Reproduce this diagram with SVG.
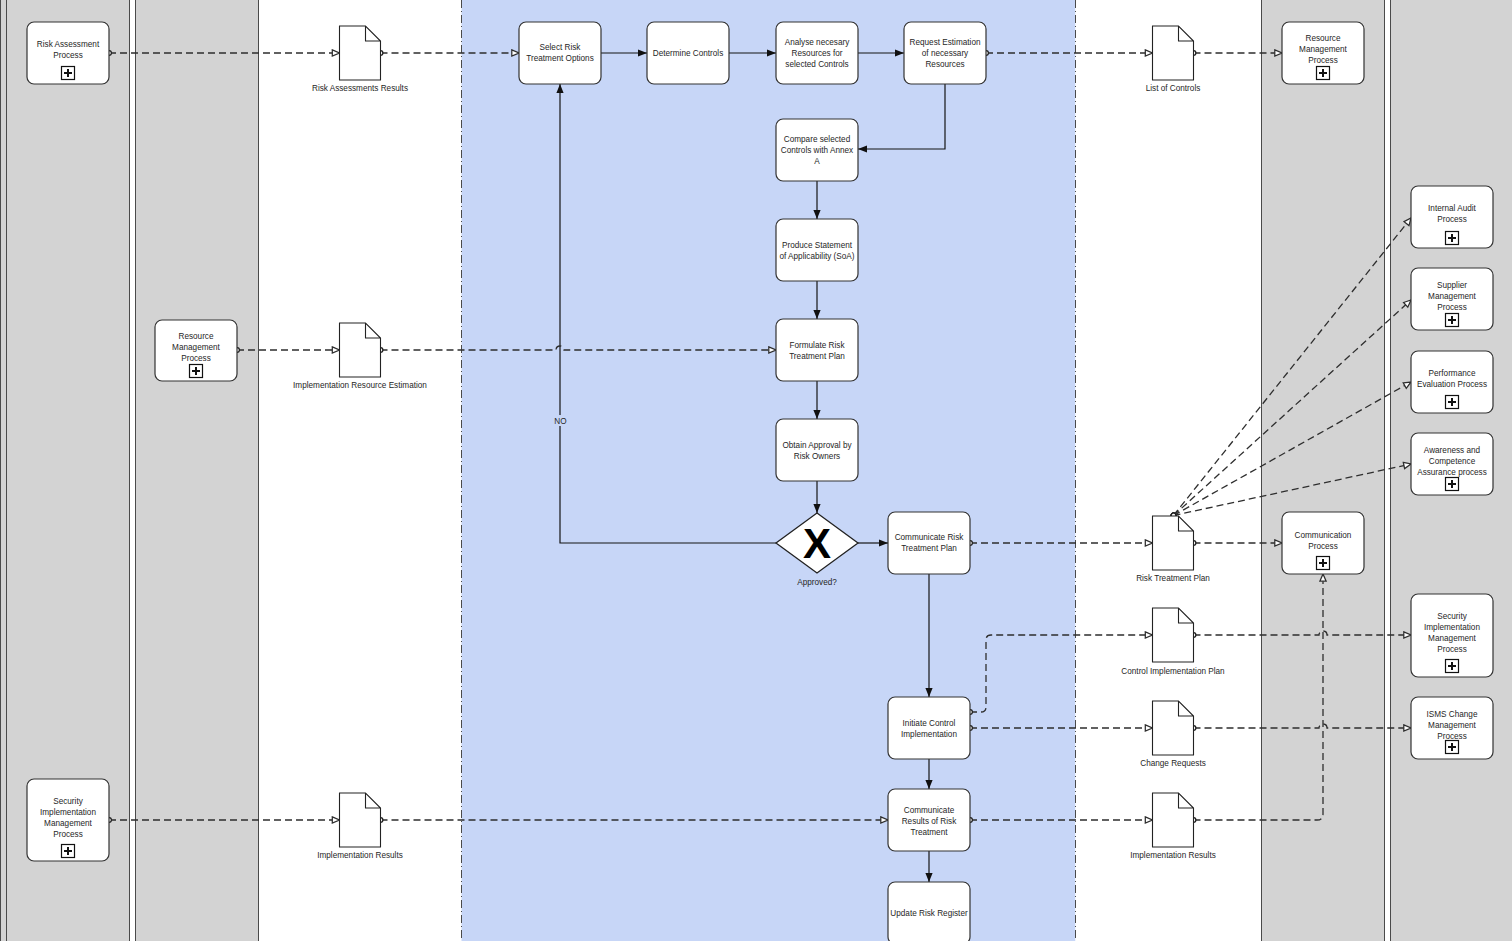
<svg xmlns="http://www.w3.org/2000/svg" width="1512" height="941" viewBox="0 0 1512 941">
<style>
.lg{fill:#d3d3d3}
.lw{fill:#ffffff}
.lb{fill:#c7d6f7}
.ll{stroke:#4a4a4a;stroke-width:1;fill:none}
.ld{stroke:#4a4a4a;stroke-width:1;fill:none;stroke-dasharray:8,3,1,3}
.node rect.b{fill:#fff;stroke:#333;stroke-width:1.2}
.t{font-family:"Liberation Sans",Arial,sans-serif;font-size:8.2px;fill:#262626;text-anchor:middle}
.pb{fill:#fff;stroke:#111;stroke-width:1.2}
.pl{stroke:#111;stroke-width:2}
.seq{fill:none;stroke:#151515;stroke-width:1.2;marker-end:url(#af)}
.msg{fill:none;stroke:#2e2e2e;stroke-width:1.3;stroke-dasharray:7,4;marker-start:url(#ci);marker-end:url(#ao)}
</style>
<defs>
<marker id="af" viewBox="0 0 10 10" refX="10" refY="5" markerWidth="9" markerHeight="9" markerUnits="userSpaceOnUse" orient="auto">
<path d="M0,1 L10,5 L0,9 z" fill="#111" stroke="none"/>
</marker>
<marker id="ao" viewBox="0 0 10 10" refX="9.5" refY="5" markerWidth="9" markerHeight="9" markerUnits="userSpaceOnUse" orient="auto">
<path d="M1.5,1.5 L9.5,5 L1.5,8.5 z" fill="#fff" stroke="#2e2e2e" stroke-width="1.4"/>
</marker>
<marker id="ci" viewBox="0 0 10 10" refX="5" refY="5" markerWidth="7" markerHeight="7" markerUnits="userSpaceOnUse" orient="auto">
<circle cx="5" cy="5" r="3.4" fill="#fff" stroke="#222" stroke-width="1.8"/>
</marker>
<g id="plus"><rect class="pb" x="-6.5" y="-6.5" width="13" height="13"/><path class="pl" d="M-4,0 H4 M0,-4 V4"/></g>
<path id="docshape" d="M0,0 H26 L41,15 V54 H0 Z M26,0 V15 H41" fill="#fff" stroke="#222" stroke-width="1.1"/>
</defs>

<g id="lanes">
<rect class="lg" x="0" y="0" width="130" height="941"/>
<rect class="lw" x="130" y="0" width="5.5" height="941"/>
<rect class="lg" x="135.5" y="0" width="123" height="941"/>
<rect class="lw" x="258.5" y="0" width="203" height="941"/>
<rect class="lb" x="461.5" y="0" width="614" height="941"/>
<rect class="lw" x="1075.5" y="0" width="186" height="941"/>
<rect class="lg" x="1261.5" y="0" width="123" height="941"/>
<rect class="lw" x="1384.5" y="0" width="6" height="941"/>
<rect class="lg" x="1390.5" y="0" width="122" height="941"/>
<path class="ll" d="M0.5,0 V941 M6.5,0 V941 M129.5,0 V941 M135.5,0 V941 M258.5,0 V941 M1261.5,0 V941 M1384.5,0 V941 M1390.5,0 V941"/>
<path class="ld" d="M461.5,0 V941 M1075.5,0 V941"/>
</g>

<g id="connectors">
<path class="seq" d="M601,53 H647"/>
<path class="seq" d="M729,53 H776"/>
<path class="seq" d="M858,53 H904"/>
<path class="seq" d="M945,84 V149 H858"/>
<path class="seq" d="M817,181 V219"/>
<path class="seq" d="M817,281 V319"/>
<path class="seq" d="M817,381 V419"/>
<path class="seq" d="M817,481 V513"/>
<path class="seq" d="M858,543 H888"/>
<path class="seq" d="M776,543 H560 V84"/>
<path class="seq" d="M929,574 V697"/>
<path class="seq" d="M929,759 V789"/>
<path class="seq" d="M929,851 V882"/>

<path class="msg" d="M109,53 H339.5"/>
<path class="msg" d="M380.5,53 H519"/>
<path class="msg" d="M986,53 H1152.5"/>
<path class="msg" d="M1193.5,53 H1282"/>
<path class="msg" d="M237,350 H339.5"/>
<path class="msg" d="M380.5,350 H556 a4,4 0 0 1 8,0 H776"/>
<path class="msg" d="M109,820 H339.5"/>
<path class="msg" d="M380.5,820 H888"/>
<path class="msg" d="M970,543 H1152.5"/>
<path class="msg" d="M1193.5,543 H1282"/>
<path class="msg" d="M970,712 H981 Q986,712 986,707 V640 Q986,635 991,635 H1152.5"/>
<path class="msg" d="M1193.5,635 H1319 a4,4 0 0 1 8,0 H1411"/>
<path class="msg" d="M970,728 H1152.5"/>
<path class="msg" d="M1193.5,728 H1319 a4,4 0 0 1 8,0 H1411"/>
<path class="msg" d="M970,820 H1152.5"/>
<path class="msg" d="M1193.5,820 H1317 Q1323,820 1323,814 V574"/>
<path class="msg" d="M1173.5,515.5 L1411,218"/>
<path class="msg" d="M1173.5,515.5 L1411,300"/>
<path class="msg" d="M1173.5,515.5 L1411,382"/>
<path class="msg" d="M1173.5,515.5 L1411,464"/>
<g id="label-no">
<rect x="552" y="415" width="16" height="11" fill="#c7d6f7"/>
<text class="t" x="560.5" y="424">NO</text>
</g>
</g>

<g id="n-risk-assessment" class="node"><rect class="b" x="27" y="22" width="82" height="62" rx="7"/><text class="t" x="68" y="47">Risk Assessment</text><text class="t" x="68" y="58">Process</text><use href="#plus" x="68" y="73"/></g>
<g id="n-resource-left" class="node"><rect class="b" x="155" y="320" width="82" height="61" rx="7"/><text class="t" x="196" y="339">Resource</text><text class="t" x="196" y="350">Management</text><text class="t" x="196" y="361">Process</text><use href="#plus" x="196" y="371"/></g>
<g id="n-sec-impl-left" class="node"><rect class="b" x="27" y="779" width="82" height="82" rx="7"/><text class="t" x="68" y="804">Security</text><text class="t" x="68" y="815">Implementation</text><text class="t" x="68" y="826">Management</text><text class="t" x="68" y="837">Process</text><use href="#plus" x="68" y="851"/></g>

<g id="d-risk-assess-results" class="doc"><use href="#docshape" x="339.5" y="26"/><text class="t" x="360" y="91">Risk Assessments Results</text></g>
<g id="d-impl-res-est" class="doc"><use href="#docshape" x="339.5" y="323"/><text class="t" x="360" y="388">Implementation Resource Estimation</text></g>
<g id="d-impl-results-left" class="doc"><use href="#docshape" x="339.5" y="793"/><text class="t" x="360" y="858">Implementation Results</text></g>

<g id="n-select" class="node"><rect class="b" x="519" y="22" width="82" height="62" rx="7"/><text class="t" x="560" y="50">Select Risk</text><text class="t" x="560" y="61">Treatment Options</text></g>
<g id="n-determine" class="node"><rect class="b" x="647" y="22" width="82" height="62" rx="7"/><text class="t" x="688" y="56">Determine Controls</text></g>
<g id="n-analyse" class="node"><rect class="b" x="776" y="22" width="82" height="62" rx="7"/><text class="t" x="817" y="45">Analyse necesary</text><text class="t" x="817" y="56">Resources for</text><text class="t" x="817" y="67">selected Controls</text></g>
<g id="n-request" class="node"><rect class="b" x="904" y="22" width="82" height="62" rx="7"/><text class="t" x="945" y="45">Request Estimation</text><text class="t" x="945" y="56">of necessary</text><text class="t" x="945" y="67">Resources</text></g>
<g id="n-compare" class="node"><rect class="b" x="776" y="119" width="82" height="62" rx="7"/><text class="t" x="817" y="142">Compare selected</text><text class="t" x="817" y="153">Controls with Annex</text><text class="t" x="817" y="164">A</text></g>
<g id="n-soa" class="node"><rect class="b" x="776" y="219" width="82" height="62" rx="7"/><text class="t" x="817" y="247.5">Produce Statement</text><text class="t" x="817" y="258.5">of Applicability (SoA)</text></g>
<g id="n-formulate" class="node"><rect class="b" x="776" y="319" width="82" height="62" rx="7"/><text class="t" x="817" y="347.5">Formulate Risk</text><text class="t" x="817" y="358.5">Treatment Plan</text></g>
<g id="n-obtain" class="node"><rect class="b" x="776" y="419" width="82" height="62" rx="7"/><text class="t" x="817" y="447.5">Obtain Approval by</text><text class="t" x="817" y="458.5">Risk Owners</text></g>
<g id="n-gateway" class="node"><polygon points="817,513 858,543 817,573 776,543" fill="#fff" stroke="#222" stroke-width="1.3"/><text x="817" y="558" text-anchor="middle" font-family="Liberation Sans,Arial,sans-serif" font-weight="bold" font-size="42" fill="#000">X</text><text class="t" x="817" y="585" fill="#1f2a44">Approved?</text></g>
<g id="n-comm-plan" class="node"><rect class="b" x="888" y="512" width="82" height="62" rx="7"/><text class="t" x="929" y="540">Communicate Risk</text><text class="t" x="929" y="551">Treatment Plan</text></g>
<g id="n-initiate" class="node"><rect class="b" x="888" y="697" width="82" height="62" rx="7"/><text class="t" x="929" y="726">Initiate Control</text><text class="t" x="929" y="737">Implementation</text></g>
<g id="n-comm-results" class="node"><rect class="b" x="888" y="789" width="82" height="62" rx="7"/><text class="t" x="929" y="813">Communicate</text><text class="t" x="929" y="824">Results of Risk</text><text class="t" x="929" y="835">Treatment</text></g>
<g id="n-update" class="node"><rect class="b" x="888" y="882" width="82" height="62" rx="7"/><text class="t" x="929" y="916">Update Risk Register</text></g>

<g id="d-list-controls" class="doc"><use href="#docshape" x="1152.5" y="26"/><text class="t" x="1173" y="91">List of Controls</text></g>
<g id="d-rtp" class="doc"><use href="#docshape" x="1152.5" y="516"/><text class="t" x="1173" y="581">Risk Treatment Plan</text></g>
<g id="d-cip" class="doc"><use href="#docshape" x="1152.5" y="608"/><text class="t" x="1173" y="674">Control Implementation Plan</text></g>
<g id="d-change" class="doc"><use href="#docshape" x="1152.5" y="701"/><text class="t" x="1173" y="766">Change Requests</text></g>
<g id="d-impl-results-right" class="doc"><use href="#docshape" x="1152.5" y="793"/><text class="t" x="1173" y="858">Implementation Results</text></g>

<g id="n-resource-right" class="node"><rect class="b" x="1282" y="22" width="82" height="62" rx="7"/><text class="t" x="1323" y="41">Resource</text><text class="t" x="1323" y="52">Management</text><text class="t" x="1323" y="63">Process</text><use href="#plus" x="1323" y="73"/></g>
<g id="n-communication" class="node"><rect class="b" x="1282" y="512" width="82" height="62" rx="7"/><text class="t" x="1323" y="538">Communication</text><text class="t" x="1323" y="549">Process</text><use href="#plus" x="1323" y="563"/></g>

<g id="n-internal-audit" class="node"><rect class="b" x="1411" y="186" width="82" height="62" rx="7"/><text class="t" x="1452" y="211">Internal Audit</text><text class="t" x="1452" y="222">Process</text><use href="#plus" x="1452" y="238"/></g>
<g id="n-supplier" class="node"><rect class="b" x="1411" y="268" width="82" height="62" rx="7"/><text class="t" x="1452" y="288">Supplier</text><text class="t" x="1452" y="299">Management</text><text class="t" x="1452" y="310">Process</text><use href="#plus" x="1452" y="320"/></g>
<g id="n-performance" class="node"><rect class="b" x="1411" y="351" width="82" height="62" rx="7"/><text class="t" x="1452" y="376">Performance</text><text class="t" x="1452" y="387">Evaluation Process</text><use href="#plus" x="1452" y="402"/></g>
<g id="n-awareness" class="node"><rect class="b" x="1411" y="433" width="82" height="62" rx="7"/><text class="t" x="1452" y="453">Awareness and</text><text class="t" x="1452" y="464">Competence</text><text class="t" x="1452" y="475">Assurance process</text><use href="#plus" x="1452" y="484"/></g>
<g id="n-sec-impl-right" class="node"><rect class="b" x="1411" y="594" width="82" height="83" rx="7"/><text class="t" x="1452" y="619">Security</text><text class="t" x="1452" y="630">Implementation</text><text class="t" x="1452" y="641">Management</text><text class="t" x="1452" y="652">Process</text><use href="#plus" x="1452" y="666"/></g>
<g id="n-isms-change" class="node"><rect class="b" x="1411" y="697" width="82" height="62" rx="7"/><text class="t" x="1452" y="717">ISMS Change</text><text class="t" x="1452" y="728">Management</text><text class="t" x="1452" y="739">Process</text><use href="#plus" x="1452" y="747"/></g>
</svg>
